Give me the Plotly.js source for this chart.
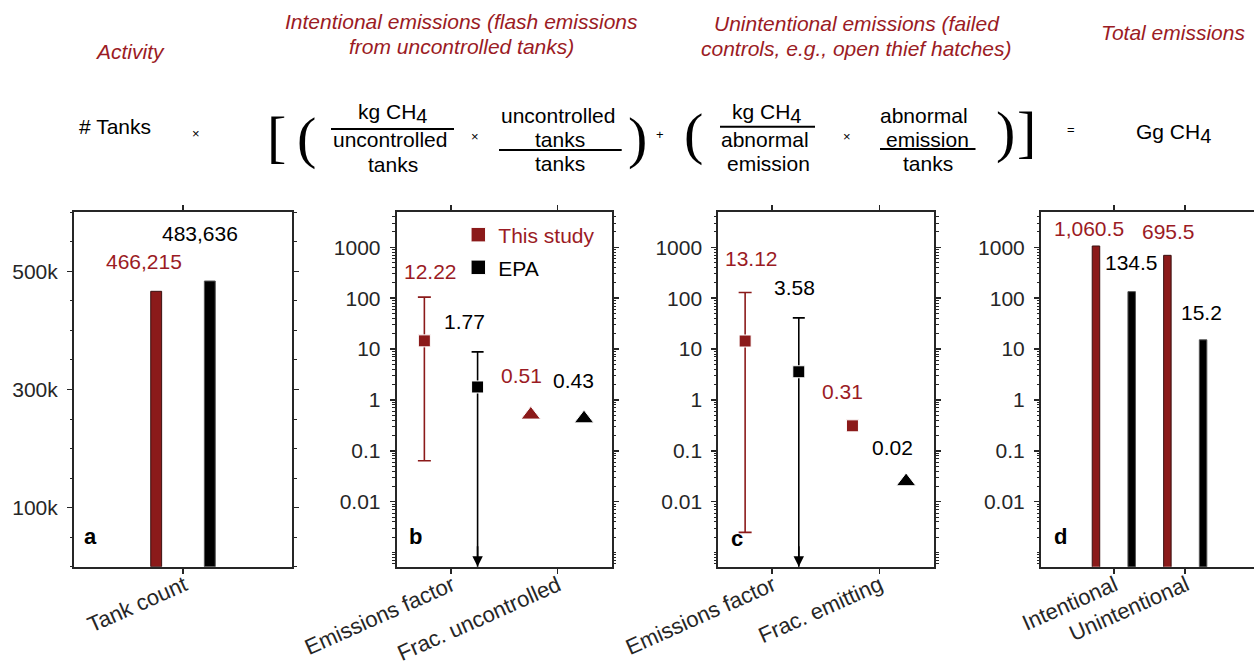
<!DOCTYPE html>
<html><head><meta charset="utf-8">
<script src="https://cdn.plot.ly/plotly-3.0.1.min.js"></script>
<style>html,body{margin:0;padding:0;background:#fff}#chart{width:1254px;height:669px}</style>
</head><body><div id="chart"></div>
<script>
// ---------------- data ----------------
const seriesNames = ['This study', 'EPA'];

const tankCategories = ['Tank count'];
const tankStudy = [466215];
const tankEPA = [483636];
const tankStudyLabels = ['466,215'];
const tankEPALabels = ['483,636'];
const tankTickVals = [100000, 300000, 500000];
const tankTickText = ['100k', '300k', '500k'];

const intCategories = ['Emissions factor', 'Frac. uncontrolled'];
const intStudy = [14.5, 0.51];
const intEPA = [1.8, 0.43];
const intStudyHigh = [105, null];
const intStudyLow = [0.064, null];
const intEPAHigh = [8.8, null];
const intEPALow = [0, null];          // lower bound reaches zero (arrow)
const intStudyLabels = ['12.22', '0.51'];
const intEPALabels = ['1.77', '0.43'];

const unCategories = ['Emissions factor', 'Frac. emitting'];
const unStudy = [14.4, 0.31];
const unEPA = [3.58, 0.025];
const unStudyHigh = [129, null];
const unStudyLow = [0.0025, null];
const unEPAHigh = [41, null];
const unEPALow = [0, null];
const unStudyLabels = ['13.12', '0.31'];
const unEPALabels = ['3.58', '0.02'];

const totCategories = ['Intentional', 'Unintentional'];
const totStudy = [1060.5, 695.5];
const totEPA = [134.5, 15.2];
const totStudyLabels = ['1,060.5', '695.5'];
const totEPALabels = ['134.5', '15.2'];

const logTickVals = [0.01, 0.1, 1, 10, 100, 1000];
const logTickText = ['0.01', '0.1', '1', '10', '100', '1000'];

// ---------------- style ----------------
const RED = '#8b1a1a';
const RED_TXT = '#9b1b24';
const INK = '#262626';
const FONT = 'Liberation Sans, Arial, Helvetica, sans-serif';
const W = 1254, H = 669;
const px = x => x / W;
const py = y => 1 - y / H;

const GROUP = 0.25;   // horizontal offset of the two series around each category (panels b-d)
const BAR_A_OFF = 0.123, BAR_A_W = 0.05;
const BAR_D_W = 0.105;

function idx(arr, off) { return arr.map((_, i) => i + off); }
function plus(vals, hi) { return vals.map((v, i) => hi[i] == null ? NaN : hi[i] - v); }
function minus(vals, lo) { return vals.map((v, i) => lo[i] == null ? NaN : v - lo[i]); }

const traces = [];

// panel a
traces.push({type:'bar', x: idx(tankCategories, 0), y: tankStudy, xaxis:'x', yaxis:'y',
  width: BAR_A_W, offset: -BAR_A_OFF - BAR_A_W/2, marker:{color:RED, line:{color:'#3a1010', width:1}},
  showlegend:false, hoverinfo:'skip'});
traces.push({type:'bar', x: idx(tankCategories, 0), y: tankEPA, xaxis:'x', yaxis:'y',
  width: BAR_A_W, offset: BAR_A_OFF - BAR_A_W/2, marker:{color:'#000', line:{color:'#555', width:1}},
  showlegend:false, hoverinfo:'skip'});

// panel b
const symB_study = ['square', 'triangle-up'];
const symB_epa = ['square', 'triangle-up'];
traces.push({type:'scatter', mode:'markers', x: idx(intCategories, -GROUP), y: intStudy, xaxis:'x2', yaxis:'y2',
  marker:{color:RED, opacity:1, symbol:symB_study, size:[12, 17]},
  error_y:{type:'data', symmetric:false, array: plus(intStudy, intStudyHigh), arrayminus: minus(intStudy, intStudyLow),
    color:RED, thickness:1.6, width:6.5},
  name:'<span style="color:' + RED_TXT + '">' + seriesNames[0] + '</span>', legend:'legend', hoverinfo:'skip'});
traces.push({type:'scatter', mode:'markers', x: idx(intCategories, GROUP), y: intEPA, xaxis:'x2', yaxis:'y2',
  marker:{color:'#000', opacity:1, symbol:symB_epa, size:[12, 17]},
  error_y:{type:'data', symmetric:false, array: plus(intEPA, intEPAHigh), arrayminus: minus(intEPA, intEPALow),
    color:'#000', thickness:1.6, width:6},
  name:seriesNames[1], legend:'legend2', hoverinfo:'skip'});

// panel c
const symC_study = ['square', 'square'];
const symC_epa = ['square', 'triangle-up'];
traces.push({type:'scatter', mode:'markers', x: idx(unCategories, -GROUP), y: unStudy, xaxis:'x3', yaxis:'y3',
  marker:{color:RED, opacity:1, symbol:symC_study, size:[12, 12]},
  error_y:{type:'data', symmetric:false, array: plus(unStudy, unStudyHigh), arrayminus: minus(unStudy, unStudyLow),
    color:RED, thickness:1.6, width:6.5},
  showlegend:false, hoverinfo:'skip'});
traces.push({type:'scatter', mode:'markers', x: idx(unCategories, GROUP), y: unEPA, xaxis:'x3', yaxis:'y3',
  marker:{color:'#000', opacity:1, symbol:symC_epa, size:[12, 17]},
  error_y:{type:'data', symmetric:false, array: plus(unEPA, unEPAHigh), arrayminus: minus(unEPA, unEPALow),
    color:'#000', thickness:1.6, width:6},
  showlegend:false, hoverinfo:'skip'});

// panel d
traces.push({type:'bar', x: idx(totCategories, 0), y: totStudy, xaxis:'x4', yaxis:'y4',
  width: BAR_D_W, offset: -GROUP - BAR_D_W/2, marker:{color:RED, line:{color:'#3a1010', width:1}},
  showlegend:false, hoverinfo:'skip'});
traces.push({type:'bar', x: idx(totCategories, 0), y: totEPA, xaxis:'x4', yaxis:'y4',
  width: BAR_D_W, offset: GROUP - BAR_D_W/2, marker:{color:'#000', line:{color:'#555', width:1}},
  showlegend:false, hoverinfo:'skip'});

// ---------------- axes ----------------
const axBase = {showline:true, linecolor:INK, linewidth:2, mirror:'ticks', ticks:'outside', ticklen:5,
  tickwidth:1.5, tickcolor:INK, showgrid:false, zeroline:false, fixedrange:true,
  tickfont:{family:FONT, size:21, color:INK}};
const yTop = py(212.3), yBot = py(566.7);
const LOGRANGE = [-3.277, 3.688];
function xAx(d0, d1, range, cats, anchor) {
  return Object.assign({}, axBase, {domain:[d0, d1], range:range, tickmode:'array',
    tickvals: cats.map((_, i) => i), ticktext: cats, showticklabels:false, anchor:anchor});
}
function logAx(anchor, mirror) {
  return Object.assign({}, axBase, {domain:[yBot, yTop], type:'log', range:LOGRANGE, tickmode:'array',
    tickvals: logTickVals, ticktext: logTickText, anchor:anchor, mirror: mirror, ticklabelstandoff:5,
    minor:{dtick:'D1', ticks:'outside', ticklen:2.5, tickwidth:1, tickcolor:INK}});
}

const layout = {
  width:W, height:H, margin:{l:0, r:0, t:0, b:0}, paper_bgcolor:'#fff', plot_bgcolor:'#fff',
  barmode:'overlay', font:{family:FONT, size:21, color:'#000'},
  xaxis: xAx(px(74), px(292), [-0.5, 0.5], tankCategories, 'y'),
  yaxis: Object.assign({}, axBase, {domain:[yBot, yTop], range:[0, 600000], tickmode:'array',
    tickvals: tankTickVals, ticktext: tankTickText, anchor:'x', ticklabelstandoff:5,
    minor:{tickmode:'linear', tick0:0, dtick:50000, ticks:'outside', ticklen:2.5, tickwidth:1, tickcolor:INK}}),
  xaxis2: xAx(px(396.7), px(611.7), [-0.51, 1.51], intCategories, 'y2'),
  yaxis2: logAx('x2', 'ticks'),
  xaxis3: xAx(px(718.3), px(934), [-0.5, 1.51], unCategories, 'y3'),
  yaxis3: logAx('x3', 'ticks'),
  xaxis4: xAx(px(1041), 1, [-1.02, 1.963], totCategories, 'y4'),
  yaxis4: logAx('x4', false),
  legend:{x:px(458.3), xanchor:'left', y:py(235), yanchor:'middle', bgcolor:'rgba(0,0,0,0)',
    font:{family:FONT, size:21, color:RED_TXT}},
  legend2:{x:px(458.3), xanchor:'left', y:py(267.7), yanchor:'middle', bgcolor:'rgba(0,0,0,0)',
    font:{family:FONT, size:21, color:'#000'}},
  annotations:[], shapes:[]
};

const ann = layout.annotations;
function txt(x, y, text, opts) {
  ann.push(Object.assign({xref:'paper', yref:'paper', x:px(x), y:py(y), text:text, showarrow:false,
    xanchor:'center', yanchor:'middle', font:{family:FONT, size:21, color:'#000'}}, opts || {}));
}
const hdr = {font:{family:FONT, size:21, color:RED_TXT, style:'italic'}};
// headers
txt(129.5, 52, 'Activity', hdr);
txt(461, 21.7, 'Intentional emissions (flash emissions', hdr);
txt(461, 46.7, 'from uncontrolled tanks)', hdr);
txt(857, 24, 'Unintentional emissions (failed', hdr);
txt(856.3, 48.3, 'controls, e.g., open thief hatches)', hdr);
txt(1173.3, 32.3, 'Total emissions', hdr);
// formula
const small = {font:{family:FONT, size:13, color:'#000'}};
const brk = {font:{family:'Liberation Serif, DejaVu Serif, serif', size:58, color:'#000'}};
const CH4 = 'CH<sub><span style="font-size:20px">4</span></sub>';
txt(114.8, 126.7, '# Tanks');
txt(195.7, 133.3, '×', small);
txt(276, 136.5, '[', brk);
txt(306.3, 137.5, '(', brk);
txt(392, 113.3, 'kg ' + CH4);
txt(390, 140, 'uncontrolled');
txt(393.3, 164.3, 'tanks');
txt(475.3, 136, '×', small);
txt(557.5, 115, 'uncontrolled');
txt(560.3, 139.3, 'tanks');
txt(560.3, 163.3, 'tanks');
txt(637, 137.5, ')', brk);
txt(660, 134, '+', small);
txt(693, 133.5, '(', brk);
txt(767, 113.3, 'kg ' + CH4);
txt(764.7, 139.3, 'abnormal');
txt(768, 163.3, 'emission');
txt(847.3, 136, '×', small);
txt(924.2, 115, 'abnormal');
txt(927, 139.3, 'emission');
txt(927.7, 163.3, 'tanks');
txt(1005.5, 131.7, ')', brk);
txt(1026.7, 131.7, ']', brk);
txt(1070.7, 130, '=', small);
txt(1173.8, 133.3, 'Gg ' + CH4);
// fraction bars
[[331, 454, 129], [499, 621.7, 150], [720, 815, 126.7], [880, 975.5, 149]].forEach(b => {
  layout.shapes.push({type:'line', xref:'paper', yref:'paper', x0:px(b[0]), x1:px(b[1]), y0:py(b[2]), y1:py(b[2]),
    line:{color:'#000', width:2}});
});
// panel letters
const bold = {font:{family:FONT, size:22, color:'#000', weight:'bold'}};
txt(90, 536, 'a', bold);
txt(415.5, 536, 'b', bold);
txt(737.3, 538, 'c', bold);
txt(1060, 536, 'd', bold);

// rotated category labels under each panel
const TICKANGLE = -24;
[['x', 'y domain', tankCategories], ['x2', 'y2 domain', intCategories],
 ['x3', 'y3 domain', unCategories], ['x4', 'y4 domain', totCategories]].forEach(([xr, yr, cats]) => {
  cats.forEach((c, i) => ann.push({xref:xr, yref:yr, x:i, y:0, text:c, showarrow:false, textangle:TICKANGLE,
    xanchor:'right', yanchor:'top', xshift:10, yshift:-2, font:{family:FONT, size:22, color:INK}}));
});

// value labels (data-anchored)
function vlab(xr, yr, x, y, text, color, dx, dy) {
  ann.push({xref:xr, yref:yr, x:x, y:y, text:text, showarrow:false, xanchor:'center', yanchor:'middle',
    xshift:dx, yshift:dy, font:{family:FONT, size:21, color:color}});
}
const L = Math.log10;
// panel a
vlab('x', 'y', -BAR_A_OFF, tankStudy[0], tankStudyLabels[0], RED_TXT, -12, 30);
vlab('x', 'y', BAR_A_OFF, tankEPA[0], tankEPALabels[0], '#000', -10, 48);
// panel b
const bShiftStudy = [[6, 26], [-9, 39]], bShiftEPA = [[-13, 30], [-11, 38]];
intStudy.forEach((v, i) => vlab('x2', 'y2', i - GROUP, L(intStudyHigh[i] != null ? intStudyHigh[i] : v), intStudyLabels[i], RED_TXT, bShiftStudy[i][0], bShiftStudy[i][1]));
intEPA.forEach((v, i) => vlab('x2', 'y2', i + GROUP, L(intEPAHigh[i] != null ? intEPAHigh[i] : v), intEPALabels[i], '#000', bShiftEPA[i][0], bShiftEPA[i][1]));
// panel c
const cShiftStudy = [[6, 34], [-10, 34]], cShiftEPA = [[-4, 30], [-14, 34]];
unStudy.forEach((v, i) => vlab('x3', 'y3', i - GROUP, L(unStudyHigh[i] != null ? unStudyHigh[i] : v), unStudyLabels[i], RED_TXT, cShiftStudy[i][0], cShiftStudy[i][1]));
unEPA.forEach((v, i) => vlab('x3', 'y3', i + GROUP, L(unEPAHigh[i] != null ? unEPAHigh[i] : v), unEPALabels[i], '#000', cShiftEPA[i][0], cShiftEPA[i][1]));
// panel d
const dShiftStudy = [[-7, 18], [1, 24]], dShiftEPA = [[0, 29], [-1.5, 27]];
totStudy.forEach((v, i) => vlab('x4', 'y4', i - GROUP, L(v), totStudyLabels[i], RED_TXT, dShiftStudy[i][0], dShiftStudy[i][1]));
totEPA.forEach((v, i) => vlab('x4', 'y4', i + GROUP, L(v), totEPALabels[i], '#000', dShiftEPA[i][0], dShiftEPA[i][1]));

// downward arrows where the EPA lower bound reaches zero
[['x2', 'y2 domain', intEPALow], ['x3', 'y3 domain', unEPALow]].forEach(([xr, yr, lows]) => {
  lows.forEach((lo, i) => {
    if (lo === 0) ann.push({xref:xr, yref:yr, x:i + GROUP, y:0, text:'', font:{size:1}, showarrow:true, ax:0, ay:-22,
      arrowhead:2, arrowsize:1.3, arrowwidth:1.6, arrowcolor:'#000', standoff:0});
  });
});

Plotly.newPlot('chart', traces, layout, {staticPlot:true, displayModeBar:false});
</script></body></html>
